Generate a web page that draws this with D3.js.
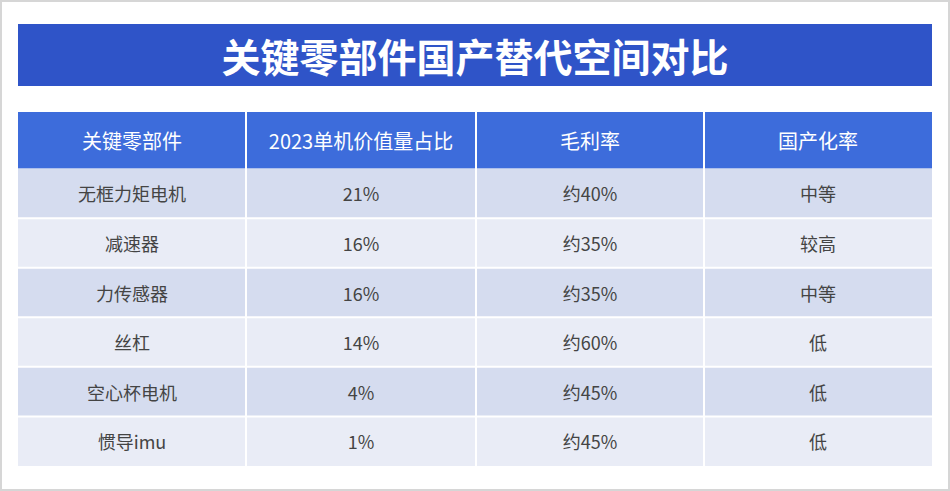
<!DOCTYPE html><html><head><meta charset="utf-8"><script src="https://cdn.jsdelivr.net/npm/d3@7"></script>
<style>body{margin:0;background:#fff}</style></head><body><svg id="c" width="950" height="491"></svg>
<script>
const title="关键零部件国产替代空间对比";
const headers=["关键零部件","2023单机价值量占比","毛利率","国产化率"];
const parts=["无框力矩电机","减速器","力传感器","丝杠","空心杯电机","惯导imu"];
const shares=["21%","16%","16%","14%","4%","1%"];
const margins=["约40%","约35%","约35%","约60%","约45%","约45%"];
const localization=["中等","较高","中等","低","低","低"];
const svg=d3.select("#c");
const F="'Noto Sans CJK SC','Noto Sans',sans-serif";
svg.append("rect").attr("x",1).attr("y",1).attr("width",948).attr("height",489).attr("fill","#fff").attr("stroke","#d6d6d6").attr("stroke-width",2);
svg.append("rect").attr("x",18).attr("y",24).attr("width",914).attr("height",62).attr("fill","#2f54c8");
svg.append("text").attr("x",475).attr("y",55).attr("text-anchor","middle").attr("dominant-baseline","central").attr("fill","#fff").attr("font-family",F).attr("font-weight","bold").attr("font-size",39).text(title);
const edges=[18,246,476,704,932];
const rowsY=d3.scaleBand().domain(d3.range(7)).range([112,466]);
svg.append("rect").attr("x",18).attr("y",rowsY(0)).attr("width",914).attr("height",rowsY.bandwidth()+6).attr("fill","#3d6cdb");
const data=parts.map((p,i)=>[p,shares[i],margins[i],localization[i]]);
const hY=rowsY(0), hH=rowsY.bandwidth()+6;
const y=d3.scaleBand().domain(d3.range(6)).range([hY+hH,466]);
svg.selectAll("rect.row").data(data).join("rect").attr("class","row").attr("x",18).attr("y",(d,i)=>y(i)).attr("width",914).attr("height",y.bandwidth()).attr("fill",(d,i)=>i%2?"#e9ecf6":"#d5dcef");
headers.forEach((h,j)=>svg.append("text").attr("x",(edges[j]+edges[j+1])/2).attr("y",hY+hH/2).attr("text-anchor","middle").attr("dominant-baseline","central").attr("fill","#fff").attr("font-family",F).attr("font-size",20).text(h));
data.forEach((r,i)=>r.forEach((v,j)=>svg.append("text").attr("x",(edges[j]+edges[j+1])/2).attr("y",y(i)+y.bandwidth()/2).attr("text-anchor","middle").attr("dominant-baseline","central").attr("fill","#444").attr("font-family",F).attr("font-size",18).text(v)));
[246,476,704].forEach(xx=>svg.append("line").attr("x1",xx).attr("x2",xx).attr("y1",hY).attr("y2",466).attr("stroke","#fff").attr("stroke-width",2));
d3.range(1,6).forEach(i=>svg.append("line").attr("x1",18).attr("x2",932).attr("y1",y(i)).attr("y2",y(i)).attr("stroke","#fff").attr("stroke-width",2));
</script></body></html>
